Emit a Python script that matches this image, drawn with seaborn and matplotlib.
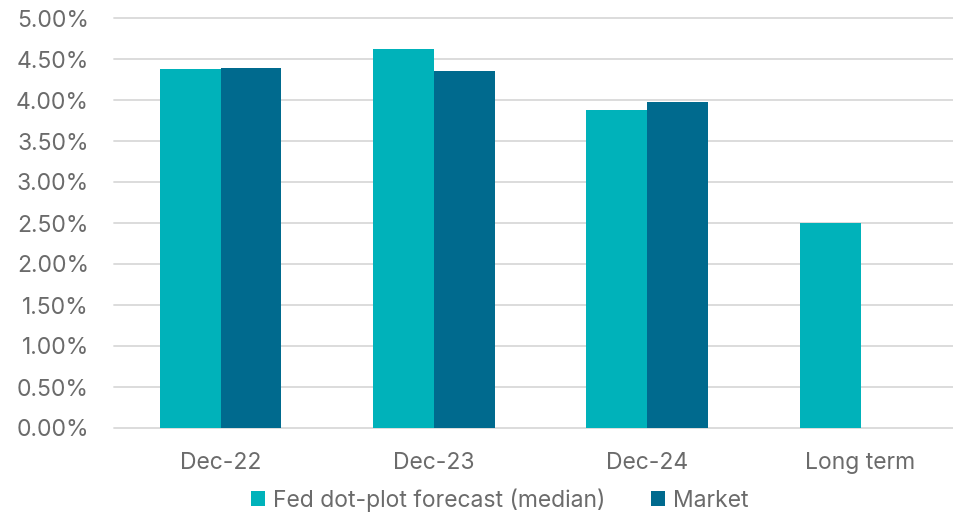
import matplotlib
matplotlib.use("Agg")
import matplotlib.pyplot as plt
import seaborn as sns
import pandas as pd
from matplotlib.ticker import PercentFormatter, MultipleLocator

categories = ["Dec-22", "Dec-23", "Dec-24", "Long term"]
fed_values = [4.375, 4.625, 3.875, 2.5]
market_values = [4.39, 4.35, 3.97, None]
series_names = ["Fed dot-plot forecast (median)", "Market"]
colors = ["#00B2BA", "#006A8E"]

rows = []
for c, v in zip(categories, fed_values):
    rows.append({"cat": c, "series": series_names[0], "val": v / 100})
for c, v in zip(categories, market_values):
    if v is not None:
        rows.append({"cat": c, "series": series_names[1], "val": v / 100})
df = pd.DataFrame(rows)

sns.set_theme(style="white")
plt.rcParams['font.family'] = ['Inter', 'DejaVu Sans']

fig = plt.figure(figsize=(9.54, 5.16), dpi=100)
ax = fig.add_axes([114/954, 88/516, 840/954, 410/516])

sns.barplot(data=df, x="cat", y="val", hue="series", order=categories,
            hue_order=series_names, palette=colors, width=0.57, dodge=True,
            saturation=1, ax=ax, legend=True, edgecolor="none")

ax.set_xlim(-0.5, -0.5 + 840/213.3)
ax.set_ylim(0, 0.05)
ax.yaxis.set_major_locator(MultipleLocator(0.005))
ax.yaxis.set_major_formatter(PercentFormatter(1.0, decimals=2))
ax.grid(axis="y", color="#d9d9d9", linewidth=1.3, clip_on=False)
ax.set_axisbelow(True)
for s in ax.spines.values():
    s.set_visible(False)
ax.set_xlabel("")
ax.set_ylabel("")
ax.tick_params(axis="both", length=0, labelsize=16.5, colors="#6b6b6b")
ax.tick_params(axis="y", pad=18)
ax.tick_params(axis="x", pad=17)
for gl in ax.get_ygridlines():
    gl.set_clip_on(False)

handles, labels = ax.get_legend_handles_labels()
ax.legend_.remove()
fig.legend(handles, labels, loc="center", bbox_to_anchor=(500/954, 1 - 500/516),
           ncol=2, frameon=False, fontsize=16.5, labelcolor="#6b6b6b",
           handlelength=0.6, handleheight=0.6, handletextpad=0.35, columnspacing=2.0)

fig.savefig("out.png", dpi=100)
